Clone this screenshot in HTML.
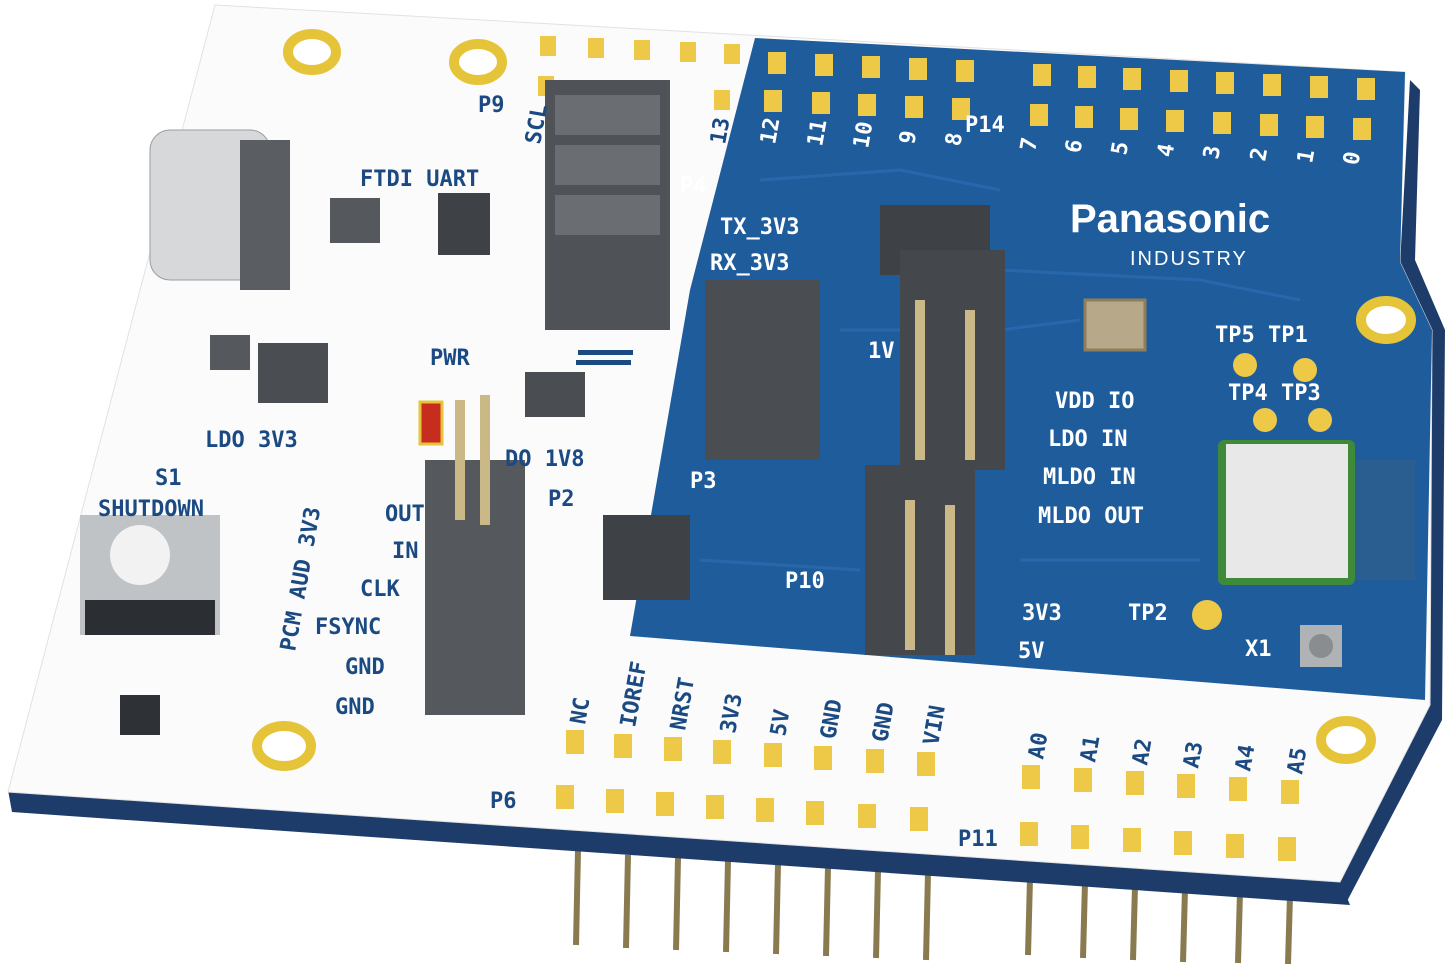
<!DOCTYPE html>
<html><head><meta charset="utf-8"><style>
html,body{margin:0;padding:0;background:#fff;}
svg{display:block;}
text{font-family:"DejaVu Sans Mono","Liberation Mono",monospace;font-weight:bold;}
.w{fill:#fff;font-size:22px;}
.d{fill:#1b4a82;font-size:22px;}
</style></head><body>
<svg width="1445" height="965" viewBox="0 0 1445 965" xmlns="http://www.w3.org/2000/svg">
<!-- pins under board -->
<g stroke="#8a7a50" stroke-width="6">
<line x1="578" y1="850" x2="576" y2="945"/><line x1="628" y1="855" x2="626" y2="948"/>
<line x1="678" y1="858" x2="676" y2="950"/><line x1="728" y1="861" x2="726" y2="952"/>
<line x1="778" y1="864" x2="776" y2="954"/><line x1="828" y1="867" x2="826" y2="956"/>
<line x1="878" y1="870" x2="876" y2="958"/><line x1="928" y1="873" x2="926" y2="960"/>
<line x1="1030" y1="878" x2="1028" y2="955"/><line x1="1085" y1="882" x2="1083" y2="958"/>
<line x1="1135" y1="886" x2="1133" y2="960"/><line x1="1185" y1="889" x2="1183" y2="962"/>
<line x1="1240" y1="892" x2="1238" y2="963"/><line x1="1290" y1="895" x2="1288" y2="964"/>
</g>
<!-- board edge (thickness) -->
<polygon points="8,790 1340,880 1350,905 12,812" fill="#1d3c6a"/>
<polygon points="1410,80 1420,90 1415,260 1445,330 1442,720 1345,905 1340,880 1430,700 1430,335 1400,265" fill="#1d3c6a"/>
<!-- board top white -->
<polygon points="215,5 1405,72 1400,262 1432,330 1430,705 1340,882 8,792" fill="#fbfbfb" stroke="#e2e2e2"/>
<!-- blue region -->
<polygon points="755,38 1405,72 1400,262 1432,330 1425,700 630,636 690,290" fill="#1f5c9c"/>
<!-- traces hint -->
<g stroke="#2a6ab0" stroke-width="3" fill="none" opacity="0.8">
<path d="M760,180 L900,170 L1000,190"/><path d="M840,330 L1000,330 L1080,320"/><path d="M1020,560 L1200,560"/>
<path d="M700,560 L860,570"/><path d="M1000,270 L1200,280 L1300,300"/>
</g>
<!-- holes -->
<g fill="#fff" stroke="#e5c43a" stroke-width="10">
<ellipse cx="312" cy="52" rx="24" ry="18"/><ellipse cx="478" cy="62" rx="24" ry="18"/>
<ellipse cx="1386" cy="320" rx="25" ry="19"/><ellipse cx="284" cy="746" rx="27" ry="20"/>
<ellipse cx="1346" cy="740" rx="25" ry="19"/>
</g>
<!-- pads -->
<g fill="#eec948">
<rect x="540" y="36" width="16" height="20"/><rect x="588" y="38" width="16" height="20"/><rect x="634" y="40" width="16" height="20"/><rect x="680" y="42" width="16" height="20"/><rect x="724" y="44" width="16" height="20"/>
<rect x="538" y="76" width="16" height="20"/><rect x="714" y="90" width="16" height="20"/>
<rect x="768" y="52" width="18" height="22"/><rect x="815" y="54" width="18" height="22"/><rect x="862" y="56" width="18" height="22"/><rect x="909" y="58" width="18" height="22"/><rect x="956" y="60" width="18" height="22"/>
<rect x="1033" y="64" width="18" height="22"/><rect x="1078" y="66" width="18" height="22"/><rect x="1123" y="68" width="18" height="22"/><rect x="1170" y="70" width="18" height="22"/><rect x="1216" y="72" width="18" height="22"/><rect x="1263" y="74" width="18" height="22"/><rect x="1310" y="76" width="18" height="22"/><rect x="1357" y="78" width="18" height="22"/>
<rect x="764" y="90" width="18" height="22"/><rect x="812" y="92" width="18" height="22"/><rect x="858" y="94" width="18" height="22"/><rect x="905" y="96" width="18" height="22"/><rect x="952" y="98" width="18" height="22"/>
<rect x="1030" y="104" width="18" height="22"/><rect x="1075" y="106" width="18" height="22"/><rect x="1120" y="108" width="18" height="22"/><rect x="1166" y="110" width="18" height="22"/><rect x="1213" y="112" width="18" height="22"/><rect x="1260" y="114" width="18" height="22"/><rect x="1306" y="116" width="18" height="22"/><rect x="1353" y="118" width="18" height="22"/>
<rect x="566" y="730" width="18" height="24"/><rect x="614" y="734" width="18" height="24"/><rect x="664" y="737" width="18" height="24"/><rect x="713" y="740" width="18" height="24"/><rect x="764" y="743" width="18" height="24"/><rect x="814" y="746" width="18" height="24"/><rect x="866" y="749" width="18" height="24"/><rect x="917" y="752" width="18" height="24"/>
<rect x="556" y="785" width="18" height="24"/><rect x="606" y="789" width="18" height="24"/><rect x="656" y="792" width="18" height="24"/><rect x="706" y="795" width="18" height="24"/><rect x="756" y="798" width="18" height="24"/><rect x="806" y="801" width="18" height="24"/><rect x="858" y="804" width="18" height="24"/><rect x="910" y="807" width="18" height="24"/>
<rect x="1022" y="765" width="18" height="24"/><rect x="1074" y="768" width="18" height="24"/><rect x="1126" y="771" width="18" height="24"/><rect x="1177" y="774" width="18" height="24"/><rect x="1229" y="777" width="18" height="24"/><rect x="1281" y="780" width="18" height="24"/>
<rect x="1020" y="822" width="18" height="24"/><rect x="1071" y="825" width="18" height="24"/><rect x="1123" y="828" width="18" height="24"/><rect x="1174" y="831" width="18" height="24"/><rect x="1226" y="834" width="18" height="24"/><rect x="1278" y="837" width="18" height="24"/>
<circle cx="1245" cy="365" r="12"/><circle cx="1305" cy="370" r="12"/><circle cx="1265" cy="420" r="12"/><circle cx="1320" cy="420" r="12"/><circle cx="1207" cy="615" r="15"/>
</g>
<!-- USB-C -->
<rect x="150" y="130" width="120" height="150" rx="20" fill="#d6d8da" stroke="#9a9ea3"/>
<rect x="240" y="140" width="50" height="150" fill="#5a5e63"/>
<!-- small chips -->
<rect x="330" y="198" width="50" height="45" fill="#55595e"/>
<rect x="438" y="193" width="52" height="62" fill="#3e4246"/>
<rect x="210" y="335" width="40" height="35" fill="#55595e"/>
<rect x="258" y="343" width="70" height="60" fill="#4a4e52"/>
<rect x="525" y="372" width="60" height="45" fill="#4a4e52"/>
<rect x="420" y="402" width="22" height="42" fill="#c62d1e" stroke="#e5c43a" stroke-width="3"/>
<rect x="120" y="695" width="40" height="40" fill="#2e3135"/>
<rect x="603" y="515" width="87" height="85" fill="#3e4246"/>
<rect x="880" y="205" width="110" height="70" fill="#3e4246"/>
<rect x="1085" y="300" width="60" height="50" fill="#b8a88a" stroke="#8f7e5c" stroke-width="3"/>
<!-- module -->
<rect x="1218" y="440" width="137" height="145" rx="6" fill="#3f8a3a"/>
<rect x="1226" y="444" width="122" height="134" fill="#e8e8e8"/>
<rect x="1355" y="460" width="60" height="120" fill="#2a5d90"/>
<!-- X1 -->
<rect x="1300" y="625" width="42" height="42" fill="#b0b3b6"/><circle cx="1321" cy="646" r="12" fill="#8a8d90"/>
<!-- button -->
<rect x="80" y="515" width="140" height="120" fill="#c0c3c6"/><rect x="85" y="600" width="130" height="35" fill="#2b2e32"/>
<circle cx="140" cy="555" r="30" fill="#f2f2f2"/>
<!-- connectors -->
<rect x="545" y="80" width="125" height="250" fill="#4f5358"/>
<rect x="555" y="95" width="105" height="40" fill="#6a6e73"/><rect x="555" y="145" width="105" height="40" fill="#6a6e73"/><rect x="555" y="195" width="105" height="40" fill="#6a6e73"/>
<rect x="705" y="280" width="115" height="180" fill="#4a4e53"/>
<rect x="900" y="250" width="105" height="220" fill="#44484d"/>
<rect x="865" y="465" width="110" height="190" fill="#44484d"/>
<rect x="425" y="460" width="100" height="255" fill="#55595e"/>
<g fill="#cbb887"><rect x="455" y="400" width="10" height="120"/><rect x="480" y="395" width="10" height="130"/><rect x="915" y="300" width="10" height="160"/><rect x="965" y="310" width="10" height="150"/><rect x="905" y="500" width="10" height="150"/><rect x="945" y="505" width="10" height="150"/></g>
<!-- labels blue area -->
<text x="1070" y="232" fill="#fff" font-family="Liberation Sans,sans-serif" font-size="40" font-weight="bold" style="font-family:'Liberation Sans',sans-serif">Panasonic</text>
<text x="1130" y="265" class="w" style="font-size:20px;font-family:'Liberation Sans',sans-serif;font-weight:normal;letter-spacing:2px">INDUSTRY</text>
<text x="720" y="234" class="w">TX_3V3</text><text x="710" y="270" class="w">RX_3V3</text>
<text x="1055" y="408" class="w">VDD IO</text><text x="1048" y="446" class="w">LDO IN</text>
<text x="1043" y="484" class="w">MLDO IN</text><text x="1038" y="523" class="w">MLDO OUT</text>
<text x="1022" y="620" class="w">3V3</text><text x="1018" y="658" class="w">5V</text>
<text x="1215" y="342" class="w">TP5 TP1</text><text x="1228" y="400" class="w">TP4 TP3</text>
<text x="1128" y="620" class="w">TP2</text><text x="1245" y="656" class="w">X1</text>
<text x="965" y="132" class="w">P14</text><text x="690" y="488" class="w">P3</text><text x="785" y="588" class="w">P10</text>
<text x="868" y="358" class="w">1V</text><text x="680" y="193" class="w">P4</text>
<g class="w">
<text transform="translate(775,145) rotate(-80)" class="w">12</text><text transform="translate(822,147) rotate(-80)" class="w">11</text><text transform="translate(868,149) rotate(-80)" class="w">10</text><text transform="translate(914,145) rotate(-80)" class="w">9</text><text transform="translate(960,147) rotate(-80)" class="w">8</text>
<text transform="translate(1035,152) rotate(-80)" class="w">7</text><text transform="translate(1080,154) rotate(-80)" class="w">6</text><text transform="translate(1126,156) rotate(-80)" class="w">5</text><text transform="translate(1172,158) rotate(-80)" class="w">4</text><text transform="translate(1218,160) rotate(-80)" class="w">3</text><text transform="translate(1265,162) rotate(-80)" class="w">2</text><text transform="translate(1312,164) rotate(-80)" class="w">1</text><text transform="translate(1358,166) rotate(-80)" class="w">0</text>
</g>
<!-- labels white area -->
<text x="478" y="112" class="d">P9</text><text x="360" y="186" class="d">FTDI UART</text>
<text x="430" y="365" class="d">PWR</text><text x="205" y="447" class="d">LDO 3V3</text>
<text x="505" y="466" class="d">DO 1V8</text><text x="155" y="485" class="d">S1</text>
<text x="98" y="516" class="d">SHUTDOWN</text><text x="385" y="521" class="d">OUT</text>
<text x="392" y="558" class="d">IN</text><text x="360" y="596" class="d">CLK</text>
<text x="315" y="634" class="d">FSYNC</text><text x="345" y="674" class="d">GND</text>
<text x="335" y="714" class="d">GND</text><text x="548" y="506" class="d">P2</text>
<text x="490" y="808" class="d">P6</text><text x="958" y="846" class="d">P11</text>
<text transform="translate(295,652) rotate(-80)" class="d">PCM AUD 3V3</text>
<text transform="translate(540,145) rotate(-80)" class="d">SCL</text>
<text transform="translate(725,145) rotate(-80)" class="d">13</text>
<text transform="translate(585,725) rotate(-80)" class="d">NC</text><text transform="translate(635,728) rotate(-80)" class="d">IOREF</text>
<text transform="translate(685,731) rotate(-80)" class="d">NRST</text><text transform="translate(735,734) rotate(-80)" class="d">3V3</text>
<text transform="translate(785,737) rotate(-80)" class="d">5V</text><text transform="translate(835,740) rotate(-80)" class="d">GND</text>
<text transform="translate(887,743) rotate(-80)" class="d">GND</text><text transform="translate(938,746) rotate(-80)" class="d">VIN</text>
<text transform="translate(1043,760) rotate(-80)" class="d">A0</text><text transform="translate(1095,763) rotate(-80)" class="d">A1</text>
<text transform="translate(1147,766) rotate(-80)" class="d">A2</text><text transform="translate(1198,769) rotate(-80)" class="d">A3</text>
<text transform="translate(1250,772) rotate(-80)" class="d">A4</text><text transform="translate(1302,775) rotate(-80)" class="d">A5</text>
<rect x="578" y="350" width="55" height="5" fill="#1b4a82"/><rect x="576" y="360" width="55" height="5" fill="#1b4a82"/>
</svg>
</body></html>
